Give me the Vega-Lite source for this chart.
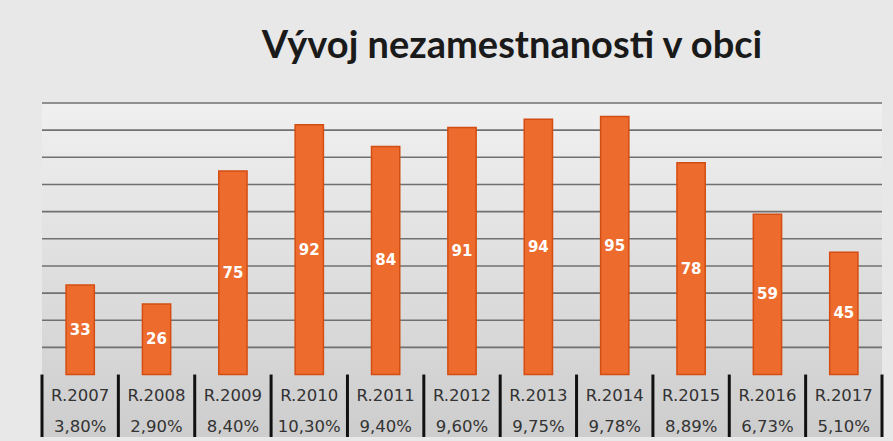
{
  "$schema": "https://vega.github.io/schema/vega-lite/v6.json",
  "autosize": {"type": "none"},
  "width": 840,
  "height": 334,
  "padding": {"left": 42, "top": 103, "right": 11, "bottom": 4},
  "background": "#e8e8e8",
  "title": {
    "text": "Vývoj nezamestnanosti v obci",
    "font": "Lato",
    "fontSize": 38,
    "fontWeight": "bold",
    "color": "#1a1a1a",
    "anchor": "middle",
    "dx": 50,
    "offset": 36
  },
  "config": {
    "view": {"stroke": null, "fill": {"gradient": "linear", "x1": 0, "y1": 0, "x2": 0, "y2": 1, "stops": [{"offset": 0, "color": "#f0f0f0"}, {"offset": 1, "color": "#cdcdcd"}]}}
  },
  "datasets": {
    "nezam": [
      {"rok": "R.2007", "pocet": 33, "miera": "3,80%"},
      {"rok": "R.2008", "pocet": 26, "miera": "2,90%"},
      {"rok": "R.2009", "pocet": 75, "miera": "8,40%"},
      {"rok": "R.2010", "pocet": 92, "miera": "10,30%"},
      {"rok": "R.2011", "pocet": 84, "miera": "9,40%"},
      {"rok": "R.2012", "pocet": 91, "miera": "9,60%"},
      {"rok": "R.2013", "pocet": 94, "miera": "9,75%"},
      {"rok": "R.2014", "pocet": 95, "miera": "9,78%"},
      {"rok": "R.2015", "pocet": 78, "miera": "8,89%"},
      {"rok": "R.2016", "pocet": 59, "miera": "6,73%"},
      {"rok": "R.2017", "pocet": 45, "miera": "5,10%"}
    ],
    "mriezka": [
      {"hodnota": 10}, {"hodnota": 20}, {"hodnota": 30}, {"hodnota": 40}, {"hodnota": 50},
      {"hodnota": 60}, {"hodnota": 70}, {"hodnota": 80}, {"hodnota": 90}, {"hodnota": 100}
    ]
  },
  "resolve": {"scale": {"y": "independent"}},
  "layer": [
    {
      "data": {"name": "mriezka"},
      "mark": {"type": "rule", "color": "#707070", "strokeWidth": 1.6},
      "encoding": {
        "y": {"field": "hodnota", "type": "quantitative", "scale": {"domain": [-23, 100], "nice": false, "zero": false}, "axis": null}
      }
    },
    {
      "data": {"name": "nezam"},
      "encoding": {
        "x": {"field": "rok", "type": "nominal", "sort": null, "scale": {"paddingInner": 0, "paddingOuter": 0}, "axis": null}
      },
      "layer": [
        {
          "mark": {"type": "bar", "width": {"band": 0.37}, "color": "#ec6b2d", "stroke": "#d44d12", "strokeWidth": 1.5},
          "encoding": {
            "y": {"field": "pocet", "type": "quantitative", "scale": {"domain": [-23, 100], "nice": false, "zero": false}, "axis": null}
          }
        },
        {
          "mark": {"type": "text", "color": "#333333", "font": "DejaVu Sans", "fontSize": 16.5, "baseline": "middle"},
          "encoding": {
            "y": {"datum": -8, "type": "quantitative"},
            "text": {"field": "rok"}
          }
        },
        {
          "mark": {"type": "text", "color": "#333333", "font": "DejaVu Sans", "fontSize": 16.5, "baseline": "middle"},
          "encoding": {
            "y": {"datum": -19.3, "type": "quantitative"},
            "text": {"field": "miera"}
          }
        },
        {
          "mark": {"type": "rule", "color": "#111111", "strokeWidth": 3},
          "encoding": {
            "x": {"field": "rok", "type": "nominal", "sort": null, "bandPosition": 0},
            "y": {"datum": 0, "type": "quantitative"},
            "y2": {"datum": -23}
          }
        },
        {
          "transform": [{"filter": "datum.rok == 'R.2017'"}],
          "mark": {"type": "rule", "color": "#111111", "strokeWidth": 3},
          "encoding": {
            "x": {"field": "rok", "type": "nominal", "sort": null, "bandPosition": 1},
            "y": {"datum": 0, "type": "quantitative"},
            "y2": {"datum": -23}
          }
        },
        {
          "mark": {"type": "rule", "color": "#111111", "strokeWidth": 2.5},
          "encoding": {
            "y": {"datum": 0, "type": "quantitative"}
          }
        }
      ]
    },
    {
      "data": {"name": "nezam"},
      "mark": {"type": "text", "color": "white", "font": "DejaVu Sans", "fontWeight": "bold", "fontSize": 15, "baseline": "middle"},
      "encoding": {
        "x": {"field": "rok", "type": "nominal", "sort": null, "scale": {"paddingInner": 0, "paddingOuter": 0}, "axis": null},
        "y": {"field": "pocet", "type": "quantitative", "scale": {"domain": [-46, 200], "nice": false, "zero": false}, "axis": null},
        "text": {"field": "pocet", "type": "quantitative"}
      }
    }
  ]
}
